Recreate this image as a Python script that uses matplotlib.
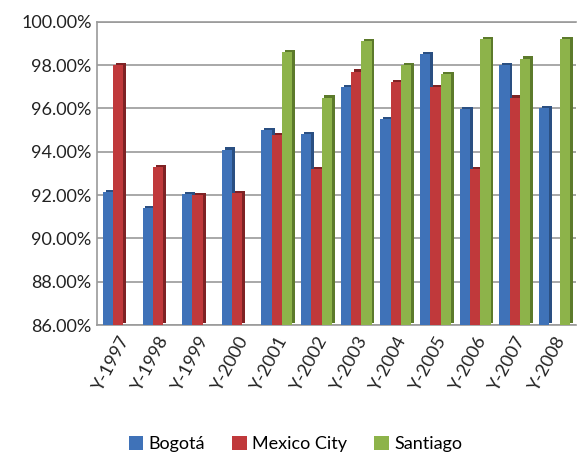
import numpy as np
import matplotlib.pyplot as plt
from matplotlib.ticker import FuncFormatter
from matplotlib.patches import Patch

plt.rcParams['font.family'] = ['Lato', 'DejaVu Sans']

# Data
years = ["Y-1997", "Y-1998", "Y-1999", "Y-2000", "Y-2001", "Y-2002",
         "Y-2003", "Y-2004", "Y-2005", "Y-2006", "Y-2007", "Y-2008"]
bogota = [92.15, 91.4, 92.05, 94.1, 95.0, 94.8, 97.0, 95.5, 98.5, 95.95, 98.0, 96.0]
mexico = [98.0, 93.3, 92.0, 92.1, 94.75, 93.2, 97.7, 97.2, 97.0, 93.2, 96.5, np.nan]
santiago = [np.nan, np.nan, np.nan, np.nan, 98.6, 96.5, 99.1, 98.0, 97.6, 99.2, 98.3, 99.2]

series = [("Bogotá", bogota, "#3f72b8", "#2a4f82"),
          ("Mexico City", mexico, "#c0393b", "#7e2224"),
          ("Santiago", santiago, "#8db34a", "#5c7a2b")]

fig = plt.figure(figsize=(5.85, 4.63), dpi=100)
ax = fig.add_axes([0.165, 0.298, 0.82, 0.655])

x = np.arange(len(years))
w = 0.26
base = 86
dx, dy = 0.07, 0.1  # fake depth, in data units

for i, (name, vals, col, dark) in enumerate(series):
    pos = x + (i - 1) * w
    vals = np.array(vals)
    # darker shadow bar behind gives the depth look
    ax.bar(pos + dx, vals - base, width=w, bottom=base + dy, color=dark,
           zorder=2 + i * 2, linewidth=0)
    ax.bar(pos, vals - base, width=w, bottom=base, color=col,
           zorder=3 + i * 2, linewidth=0)

ax.set_ylim(86, 100)
ax.set_xlim(-0.55, len(years) - 0.45)
ax.set_yticks(np.arange(86, 100.1, 2))
ax.yaxis.set_major_formatter(FuncFormatter(lambda v, p: f"{v:.2f}%"))
ax.yaxis.grid(True, color="#9a9a9a", linewidth=1.2, zorder=0)
ax.set_axisbelow(True)

ax.set_xticks(x)
ax.set_xticklabels(years, rotation=62, ha="right", rotation_mode="anchor")
ax.tick_params(axis="both", length=0, labelsize=13, colors="#222222")
ax.tick_params(axis="x", pad=6)

for side in ["top", "left", "bottom", "right"]:
    ax.spines[side].set_color("#9a9a9a")
    ax.spines[side].set_linewidth(1.2)
ax.spines["right"].set_visible(False)

handles = [Patch(facecolor=c, label=n) for n, _, c, _ in series]
fig.legend(handles=handles, loc="lower center", ncol=3, frameon=False,
           fontsize=13, handlelength=0.8, handleheight=0.8,
           handletextpad=0.3, columnspacing=1.5, bbox_to_anchor=(0.505, -0.012))

fig.savefig("out.png", dpi=100)
